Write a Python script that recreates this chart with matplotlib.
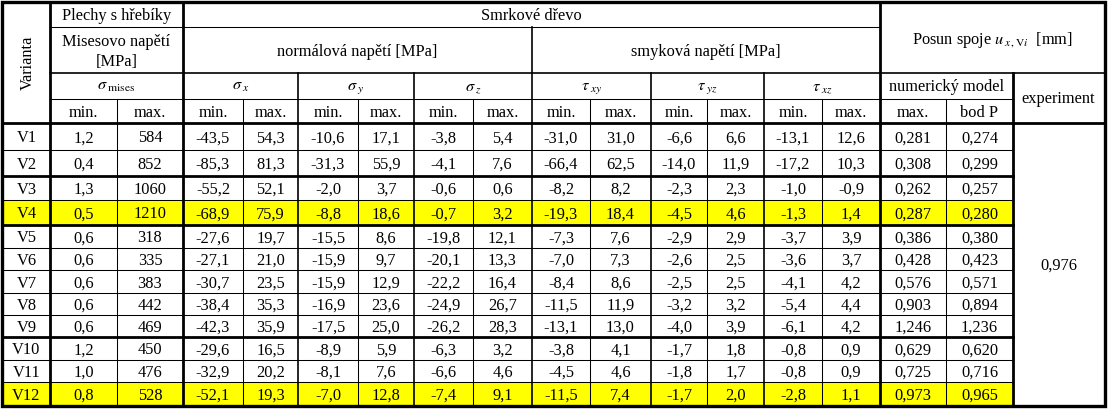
import matplotlib
matplotlib.use("Agg")
from matplotlib import pyplot as plt
from matplotlib.patches import Rectangle

plt.rcParams['font.family'] = ['Liberation Serif', 'DejaVu Serif']
plt.rcParams['mathtext.fontset'] = 'stix'

# data #
variants = ['V1', 'V2', 'V3', 'V4', 'V5', 'V6', 'V7', 'V8', 'V9', 'V10', 'V11', 'V12']
mises_min = [1.2, 0.4, 1.3, 0.5, 0.6, 0.6, 0.6, 0.6, 0.6, 1.2, 1.0, 0.8]
mises_max = [584, 852, 1060, 1210, 318, 335, 383, 442, 469, 450, 476, 528]
sx_min = [-43.5, -85.3, -55.2, -68.9, -27.6, -27.1, -30.7, -38.4, -42.3, -29.6, -32.9, -52.1]
sx_max = [54.3, 81.3, 52.1, 75.9, 19.7, 21.0, 23.5, 35.3, 35.9, 16.5, 20.2, 19.3]
sy_min = [-10.6, -31.3, -2.0, -8.8, -15.5, -15.9, -15.9, -16.9, -17.5, -8.9, -8.1, -7.0]
sy_max = [17.1, 55.9, 3.7, 18.6, 8.6, 9.7, 12.9, 23.6, 25.0, 5.9, 7.6, 12.8]
sz_min = [-3.8, -4.1, -0.6, -0.7, -19.8, -20.1, -22.2, -24.9, -26.2, -6.3, -6.6, -7.4]
sz_max = [5.4, 7.6, 0.6, 3.2, 12.1, 13.3, 16.4, 26.7, 28.3, 3.2, 4.6, 9.1]
txy_min = [-31.0, -66.4, -8.2, -19.3, -7.3, -7.0, -8.4, -11.5, -13.1, -3.8, -4.5, -11.5]
txy_max = [31.0, 62.5, 8.2, 18.4, 7.6, 7.3, 8.6, 11.9, 13.0, 4.1, 4.6, 7.4]
tyz_min = [-6.6, -14.0, -2.3, -4.5, -2.9, -2.6, -2.5, -3.2, -4.0, -1.7, -1.8, -1.7]
tyz_max = [6.6, 11.9, 2.3, 4.6, 2.9, 2.5, 2.5, 3.2, 3.9, 1.8, 1.7, 2.0]
txz_min = [-13.1, -17.2, -1.0, -1.3, -3.7, -3.6, -4.1, -5.4, -6.1, -0.8, -0.8, -2.8]
txz_max = [12.6, 10.3, -0.9, 1.4, 3.9, 3.7, 4.2, 4.4, 4.2, 0.9, 0.9, 1.1]
u_max = [0.281, 0.308, 0.262, 0.287, 0.386, 0.428, 0.576, 0.903, 1.246, 0.629, 0.725, 0.973]
u_bodp = [0.274, 0.299, 0.257, 0.280, 0.380, 0.423, 0.571, 0.894, 1.236, 0.620, 0.716, 0.965]
experiment = 0.976
highlighted = ['V4', 'V12']

# layout (pixels) #
col_x = [3, 50, 117, 183, 243, 298, 358, 414, 473, 532, 590, 651, 707, 764, 822, 880, 946, 1013, 1104]
head_y = [2, 27, 73, 99, 123]
row_y = [123, 150, 176, 200, 225, 248, 270, 293, 315, 337, 360, 382, 405]
thick_rows = [176, 225, 337]
FS = 11.8
BASE = 6.0  # baseline offset below the cell centre
THIN, MED, THICK = 0.75, 1.2, 2.0

fig = plt.figure(figsize=(11.08, 4.09), dpi=100)
ax = fig.add_axes([0, 0, 1, 1])
ax.set_xlim(0, 1108)
ax.set_ylim(409, 0)
ax.axis('off')


def fmt(v, nd):
    return ('{:.%df}' % nd).format(v).replace('.', ',')


def put(x0, x1, y0, y1, s, dy=0.0, **kw):
    ax.text((x0 + x1) / 2, (y0 + y1) / 2 + BASE + dy, s, ha='center', va='baseline',
            fontsize=FS, color='black', **kw)


def hline(y, x0, x1, lw):
    ax.plot([x0, x1], [y, y], color='black', lw=lw, solid_capstyle='projecting')


def vline(x, y0, y1, lw):
    ax.plot([x, x], [y0, y1], color='black', lw=lw, solid_capstyle='projecting')


# yellow rows
for i, v in enumerate(variants):
    if v in highlighted:
        ax.add_patch(Rectangle((col_x[0], row_y[i]), col_x[-2] - col_x[0],
                               row_y[i + 1] - row_y[i], facecolor='#ffff00',
                               edgecolor='none', zorder=0))

# header texts
ax.text((col_x[0] + col_x[1]) / 2 + 1, (head_y[0] + head_y[4]) / 2, 'Varianta', rotation=90,
        ha='center', va='center', fontsize=FS, color='black')
put(col_x[1], col_x[3], head_y[0], head_y[1], 'Plechy s hřebíky', dy=-1)
put(col_x[3], col_x[15], head_y[0], head_y[1], 'Smrkové dřevo', dy=-1)
put(col_x[1], col_x[3], head_y[1], head_y[2], 'Misesovo napětí', dy=-10)
put(col_x[1], col_x[3], head_y[1], head_y[2], '[MPa]', dy=10)
put(col_x[3], col_x[9], head_y[1], head_y[2], 'normálová napětí [MPa]')
put(col_x[9], col_x[15], head_y[1], head_y[2], 'smyková napětí [MPa]')
put(col_x[15], col_x[18], head_y[0], head_y[2], r'Posun spoje $u_{\,x\,,\mathrm{V}i}$  [mm]')

symbols = [r'$\sigma_{\;\mathrm{mises}}$', r'$\sigma_{\;x}$', r'$\sigma_{\;y}$', r'$\sigma_{\;z}$',
           r'$\tau_{\;xy}$', r'$\tau_{\;yz}$', r'$\tau_{\;xz}$']
for k, s in enumerate(symbols):
    put(col_x[1 + 2 * k], col_x[3 + 2 * k], head_y[2], head_y[3], s, dy=-2)
put(col_x[15], col_x[17], head_y[2], head_y[3], 'numerický model', dy=-1)
put(col_x[17], col_x[18], head_y[2], head_y[4], 'experiment', dy=-1)
for k in range(7):
    put(col_x[1 + 2 * k], col_x[2 + 2 * k], head_y[3], head_y[4], 'min.')
    put(col_x[2 + 2 * k], col_x[3 + 2 * k], head_y[3], head_y[4], 'max.')
put(col_x[15], col_x[16], head_y[3], head_y[4], 'max.')
put(col_x[16], col_x[17], head_y[3], head_y[4], 'bod P')

# data texts
columns = [(mises_min, 1), (mises_max, 0), (sx_min, 1), (sx_max, 1), (sy_min, 1), (sy_max, 1),
           (sz_min, 1), (sz_max, 1), (txy_min, 1), (txy_max, 1), (tyz_min, 1), (tyz_max, 1),
           (txz_min, 1), (txz_max, 1), (u_max, 3), (u_bodp, 3)]
for i, v in enumerate(variants):
    y0, y1 = row_y[i], row_y[i + 1]
    put(col_x[0], col_x[1], y0, y1, v)
    for j, (vals, nd) in enumerate(columns):
        put(col_x[1 + j], col_x[2 + j], y0, y1, fmt(vals[i], nd))
put(col_x[17], col_x[18], row_y[0], row_y[-1], fmt(experiment, 3))

# grid lines
for y in row_y[1:-1]:
    hline(y, col_x[0], col_x[17], THICK if y in thick_rows else THIN)
hline(head_y[1], col_x[1], col_x[15], THIN)
hline(head_y[2], col_x[1], col_x[18], MED)
hline(head_y[3], col_x[1], col_x[17], THIN)
hline(head_y[4], col_x[0], col_x[18], THICK)

thick_cols = [1, 3, 15, 17]
group_cols = [5, 7, 9, 11, 13]
starts = {1: head_y[0], 3: head_y[0], 15: head_y[0], 9: head_y[1],
          5: head_y[2], 7: head_y[2], 11: head_y[2], 13: head_y[2], 17: head_y[2]}
for c in range(1, 18):
    lw = THICK if c in thick_cols else (MED if c in group_cols else THIN)
    vline(col_x[c], starts.get(c, head_y[3]), row_y[-1], lw)

# outer frame
ax.add_patch(Rectangle((col_x[0] - 1, head_y[0] - 0.5), col_x[-1] - col_x[0] + 2,
                       row_y[-1] - head_y[0] + 1.5, fill=False, edgecolor='black',
                       lw=THICK + 0.4, zorder=3))

fig.savefig('out.png', dpi=100)
